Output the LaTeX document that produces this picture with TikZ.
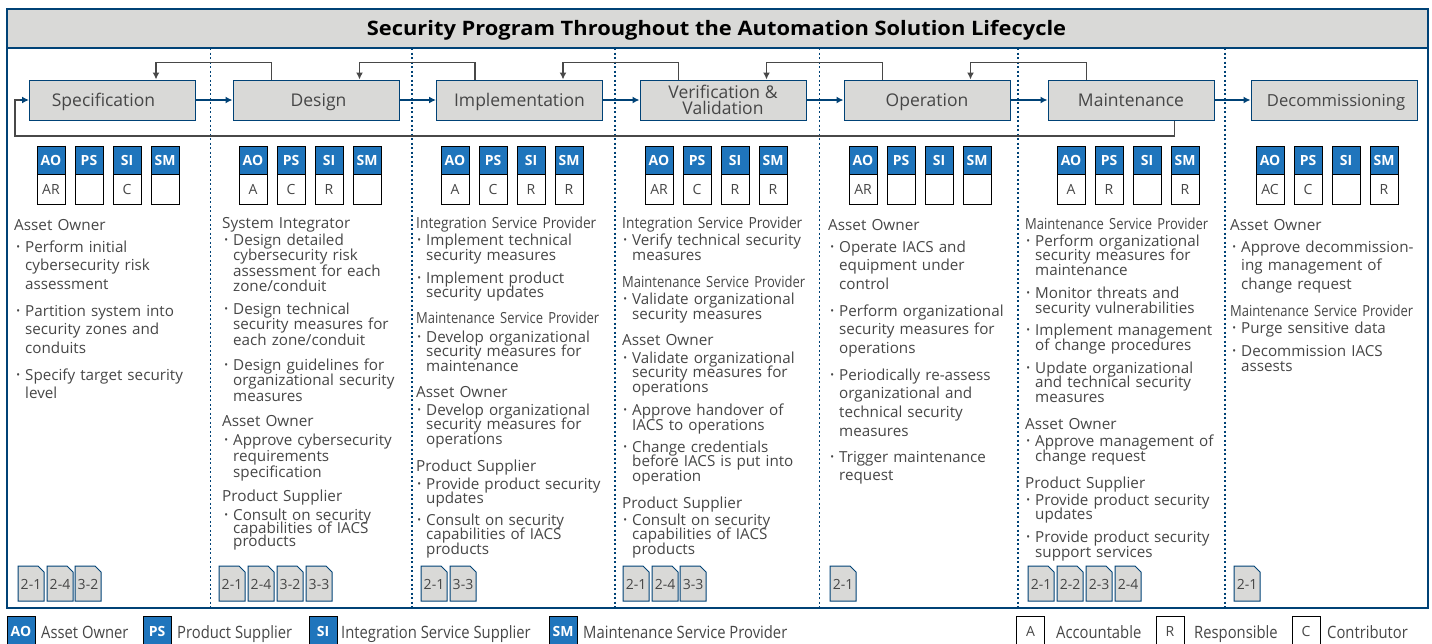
\documentclass[tikz,border=0pt]{standalone}
\usepackage{fontspec}
\usetikzlibrary{arrows.meta}
\setmainfont{Open Sans}
\newfontfamily\narrowfont{Open Sans}[FakeStretch=0.9]
\newfontfamily\narrowerfont{Open Sans}[FakeStretch=0.85]
\newfontfamily\legendfont{Open Sans}[FakeStretch=0.87]
\newfontfamily\widefont{Open Sans}[FakeStretch=1.1]

\definecolor{frameblue}{RGB}{0,66,118}
\definecolor{badgeblue}{RGB}{31,117,188}
\definecolor{boxgrey}{RGB}{217,217,215}
\definecolor{linegrey}{RGB}{72,72,72}
\definecolor{textgrey}{RGB}{70,70,70}

\newcommand{\bul}{\leavevmode\llap{\raisebox{1.5pt}{\fontsize{10}{10}\selectfont\textbullet}\hspace{5pt}}}
\newcommand{\tightlines}{\setlength{\lineskiplimit}{-20pt}}

\tikzset{
    processbox/.style={draw=frameblue,fill=boxgrey,line width=1pt,minimum width=166pt,minimum height=40pt,inner sep=0pt,text=textgrey,align=center,font=\fontsize{17.5}{16}\selectfont},
    onelinebox/.style={processbox,text height=15pt,text depth=3pt},
    flowarrow/.style={draw=frameblue,line width=1.4pt,-{Latex[length=7pt,width=7pt]}},
    backarrow/.style={draw=linegrey,line width=1.8pt,-{Latex[length=7pt,width=7pt]}},
    rolehead/.style={draw=black,fill=badgeblue,line width=0.9pt,minimum width=28pt,minimum height=28pt,inner sep=0pt,text=white,font=\fontsize{14}{14}\selectfont\bfseries},
    roleval/.style={draw=black,fill=white,line width=0.9pt,minimum width=28pt,minimum height=30pt,inner sep=0pt,text=textgrey,font=\fontsize{14}{14}\selectfont},
    rolename/.style={anchor=base west,inner sep=0pt,text width=200pt,align=left,text=textgrey,font=\fontsize{15.3}{18}\selectfont},
    intername/.style={rolename,font=\narrowfont\fontsize{15.3}{18}\selectfont},
    maintname/.style={rolename,font=\narrowerfont\fontsize{15.3}{18}\selectfont},
    tasktext/.style={anchor=base west,inner sep=0pt,text width=190pt,align=left,text=textgrey,font=\fontsize{15.2}{#1}\selectfont,execute at begin node=\tightlines},
    tasktext/.default=14.8,
    docicon/.style={draw=frameblue,fill=boxgrey,line width=1pt},
    doclabel/.style={inner sep=0pt,text=textgrey,font=\fontsize{14}{14}\selectfont},
    legendtext/.style={anchor=west,inner sep=0pt,text height=15pt,text depth=3pt,text=textgrey,font=\legendfont\fontsize{17}{17}\selectfont},
    sepline/.style={draw=frameblue,line width=1.2pt,dash pattern=on 2pt off 2.5pt}
}

\begin{document}
\begin{tikzpicture}[x=1pt,y=-1pt]
    \useasboundingbox (0,0) rectangle (1432,643);

    % frame and title
    \draw[draw=frameblue,line width=1.6pt,fill=boxgrey] (7,9) rectangle (1428,48);
    \draw[draw=frameblue,line width=1.6pt] (7,48) rectangle (1428,608);
    \node[font=\widefont\fontsize{19.9}{19.9}\selectfont\bfseries] (title) at (716.5,30) {Security Program Throughout the Automation Solution Lifecycle};

    % phase separators
    \foreach \sepx in {210.5,412,615,819.5,1018,1225}
        \draw[sepline] (\sepx,48) -- (\sepx,608);

    % lifecycle boxes
    \node[onelinebox] (spec) at (112.5,100) {\hspace*{-18pt}Specification};
    \node[onelinebox] (design) at (316,100) {\hspace*{5pt}Design};
    \node[onelinebox] (impl) at (519.5,100) {Implementation};
    \node[processbox] (verif) at (723,100) {Verification \&\\Validation};
    \node[onelinebox] (oper) at (927,100) {Operation};
    \node[onelinebox] (maint) at (1131,100) {Maintenance};
    \node[onelinebox,font=\fontsize{16.6}{16}\selectfont] (decom) at (1334,100) {\hspace*{4pt}Decommissioning};

    % forward flow
    \draw[flowarrow] (spec) -- (design);
    \draw[flowarrow] (design) -- (impl);
    \draw[flowarrow] (impl) -- (verif);
    \draw[flowarrow] (verif) -- (oper);
    \draw[flowarrow] (oper) -- (maint);
    \draw[flowarrow] (maint) -- (decom);

    % feedback
    \draw[backarrow] ([xshift=39pt]design.north west) -- ++(0,-17) -| ([xshift=127pt]spec.north west);
    \draw[backarrow] ([xshift=39pt]impl.north west) -- ++(0,-17) -| ([xshift=127pt]design.north west);
    \draw[backarrow] ([xshift=39pt]verif.north west) -- ++(0,-17) -| ([xshift=127pt]impl.north west);
    \draw[backarrow] ([xshift=39pt]oper.north west) -- ++(0,-17) -| ([xshift=127pt]verif.north west);
    \draw[backarrow] ([xshift=39pt]maint.north west) -- ++(0,-17) -| ([xshift=127pt]oper.north west);
    \coordinate (loopcorner) at (15,136);
    \draw[draw=linegrey,line width=1.8pt] ([xshift=127pt]maint.south west) |- (loopcorner) -- (15,100) -- (23,100);
    \draw[flowarrow] (20,100) -- (spec.west);

    % role badges
    \foreach \col/\colx/\ao/\ps/\si/\sm in {1/51/AR//C/,2/253/A/C/R/,3/455/A/C/R/R,4/659/AR/C/R/R,5/863/AR///,6/1071/A/R//R,7/1270/AC/C//R}{
        \foreach \n/\role/\val in {0/AO/\ao,1/PS/\ps,2/SI/\si,3/SM/\sm}{
            \node[roleval] (val\col\role) at (\colx+38*\n,189) {\val};
            \node[rolehead] (head\col\role) at (\colx+38*\n,160) {\role};
        }
    }
    \draw[draw=black,line width=1.6pt] (head1AO.north east) -- (val1AO.south east) -- (val1AO.south west);

    % specification
    \node[rolename] (role1a) at (14,230) {Asset Owner};
    \node[tasktext=18.7] (task1a) at (25,252) {\bul Perform initial\\cybersecurity risk\\assessment};
    \node[tasktext=18.7] (task1b) at (25,316) {\bul Partition system into\\security zones and\\conduits};
    \node[tasktext=18.7] (task1c) at (25,380) {\bul Specify target security\\level};

    % design
    \node[rolename] (role2a) at (222,228) {System Integrator};
    \node[tasktext=15.5] (task2a) at (233,245) {\bul Design detailed\\cybersecurity risk\\assessment for each\\zone/conduit};
    \node[tasktext=15.9] (task2b) at (233,314) {\bul Design technical\\security measures for\\each zone/conduit};
    \node[tasktext=15.9] (task2c) at (233,370) {\bul Design guidelines for\\organizational security\\measures};
    \node[rolename] (role2b) at (222,426) {Asset Owner};
    \node[tasktext=16] (task2d) at (233,445) {\bul Approve cybersecurity\\requirements\\specification};
    \node[rolename] (role2c) at (222,501) {Product Supplier};
    \node[tasktext=13.3] (task2e) at (233,520) {\bul Consult on security\\capabilities of IACS\\products};

    % implementation
    \node[intername] (role3a) at (416,228) {Integration Service Provider};
    \node[tasktext=15] (task3a) at (426,245) {\bul Implement technical\\security measures};
    \node[tasktext=14.5] (task3b) at (426,283) {\bul Implement product\\security updates};
    \node[maintname] (role3b) at (416,323) {Maintenance Service Provider};
    \node[tasktext] (task3c) at (426,342) {\bul Develop organizational\\security measures for\\maintenance};
    \node[rolename] (role3c) at (416,397) {Asset Owner};
    \node[tasktext] (task3d) at (426,415) {\bul Develop organizational\\security measures for\\operations};
    \node[rolename] (role3d) at (416,471) {Product Supplier};
    \node[tasktext=14.5] (task3e) at (426,489) {\bul Provide product security\\updates};
    \node[tasktext] (task3f) at (426,525) {\bul Consult on security\\capabilities of IACS\\products};

    % verification and validation
    \node[intername] (role4a) at (622,228) {Integration Service Provider};
    \node[tasktext=15] (task4a) at (632,245) {\bul Verify technical security\\measures};
    \node[maintname] (role4b) at (622,287) {Maintenance Service Provider};
    \node[tasktext=15] (task4b) at (632,304) {\bul Validate organizational\\security measures};
    \node[rolename] (role4c) at (622,345) {Asset Owner};
    \node[tasktext] (task4c) at (632,363) {\bul Validate organizational\\security measures for\\operations};
    \node[tasktext=15] (task4d) at (632,415) {\bul Approve handover of\\IACS to operations};
    \node[tasktext] (task4e) at (632,452) {\bul Change credentials\\before IACS is put into\\operation};
    \node[rolename] (role4d) at (622,508) {Product Supplier};
    \node[tasktext] (task4f) at (632,525) {\bul Consult on security\\capabilities of IACS\\products};

    % operation
    \node[rolename] (role5a) at (828,230) {Asset Owner};
    \node[tasktext=18.7] (task5a) at (839,252) {\bul Operate IACS and\\equipment under\\control};
    \node[tasktext=18.7] (task5b) at (839,316) {\bul Perform organizational\\security measures for\\operations};
    \node[tasktext=18.7] (task5c) at (839,380) {\bul Periodically re-assess\\organizational and\\technical security\\measures};
    \node[tasktext=18.7] (task5d) at (839,462) {\bul Trigger maintenance\\request};

    % maintenance
    \node[maintname] (role6a) at (1025,229) {Maintenance Service Provider};
    \node[tasktext] (task6a) at (1035,246) {\bul Perform organizational\\security measures for\\maintenance};
    \node[tasktext=15] (task6b) at (1035,298) {\bul Monitor threats and\\security vulnerabilities};
    \node[tasktext=15] (task6c) at (1035,335) {\bul Implement management\\of change procedures};
    \node[tasktext] (task6d) at (1035,373) {\bul Update organizational\\and technical security\\measures};
    \node[rolename] (role6b) at (1025,429) {Asset Owner};
    \node[tasktext=15] (task6e) at (1035,446) {\bul Approve management of\\change request};
    \node[rolename] (role6c) at (1025,488) {Product Supplier};
    \node[tasktext=14.5] (task6f) at (1035,505) {\bul Provide product security\\updates};
    \node[tasktext=15] (task6g) at (1035,542) {\bul Provide product security\\support services};

    % decommissioning
    \node[rolename] (role7a) at (1230,230) {Asset Owner};
    \node[tasktext=18.7] (task7a) at (1241,252) {\bul Approve decommission-\\ing management of\\change request};
    \node[maintname] (role7b) at (1230,316) {Maintenance Service Provider};
    \node[tasktext] (task7b) at (1241,333) {\bul Purge sensitive data};
    \node[tasktext=15] (task7c) at (1241,356) {\bul Decommission IACS\\assests};

    % standards documents
    \foreach \docname/\docx/\doctext in {a/31/2-1,b/60/2-4,c/88/3-2,d/232/2-1,e/261/2-4,f/290/3-2,g/319/3-3,h/434/2-1,i/463/3-3,j/636/2-1,k/665/2-4,l/693/3-3,m/843/2-1,n/1041/2-1,o/1070/2-2,p/1099/2-3,q/1128/2-4,r/1247/2-1}{
        \draw[docicon] ({\docx-13},601) -- ({\docx-13},566) -- ({\docx+7},566) -- ({\docx+13},572) -- ({\docx+13},601) -- cycle;
        \node[doclabel] (doc\docname) at (\docx,584) {\doctext};
    }

    % legend
    \node[rolehead,minimum height=30pt] (keyAO) at (21,631) {AO};
    \node[legendtext] (keyAOtext) at (41,632) {Asset Owner};
    \node[rolehead,minimum height=30pt] (keyPS) at (157,631) {PS};
    \node[legendtext] (keyPStext) at (177,632) {Product Supplier};
    \node[rolehead,minimum height=30pt] (keySI) at (323,631) {SI};
    \node[legendtext] (keySItext) at (341,632) {Integration Service Supplier};
    \node[rolehead,minimum height=30pt] (keySM) at (563,631) {SM};
    \node[legendtext] (keySMtext) at (583,632) {Maintenance Service Provider};
    \node[roleval] (keyA) at (1030.5,631) {A};
    \node[legendtext] (keyAtext) at (1056,632) {Accountable};
    \node[roleval] (keyR) at (1170,631) {R};
    \node[legendtext] (keyRtext) at (1194,632) {Responsible};
    \node[roleval] (keyC) at (1306,631) {C};
    \node[legendtext] (keyCtext) at (1327,632) {Contributor};
\end{tikzpicture}
\end{document}
